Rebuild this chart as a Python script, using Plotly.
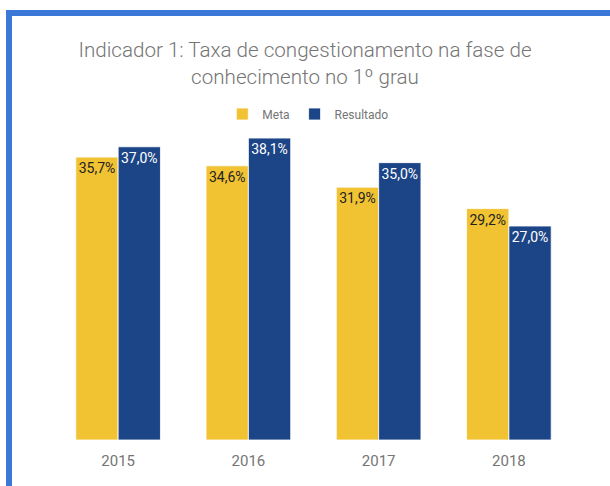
import plotly.graph_objects as go

years = ["2015", "2016", "2017", "2018"]
meta = [35.7, 34.6, 31.9, 29.2]
resultado = [37.0, 38.1, 35.0, 27.0]
meta_labels = ["35,7%", "34,6%", "31,9%", "29,2%"]
resultado_labels = ["37,0%", "38,1%", "35,0%", "27,0%"]

W, H = 610, 486
L, R, T, B = 53, 36, 123, 46
pw, ph = W - L - R, H - T - B

def px_x(x):
    return (x - L) / pw

def px_y(y):
    return (H - B - y) / ph

fig = go.Figure()
fig.add_trace(go.Bar(
    name="Meta", x=years, y=meta, text=meta_labels,
    marker=dict(color="#F1C232", line=dict(color="white", width=0.8)),
    textposition="inside", insidetextanchor="end", constraintext="none",
    textfont=dict(color="#222222", size=14, family="Roboto"),
    textangle=0,
))
fig.add_trace(go.Bar(
    name="Resultado", x=years, y=resultado, text=resultado_labels,
    marker=dict(color="#1C4587", line=dict(color="white", width=0.8)),
    textposition="inside", insidetextanchor="end", constraintext="none",
    textfont=dict(color="white", size=14, family="Roboto"),
    textangle=0,
))

fig.update_layout(
    width=W, height=H,
    margin=dict(l=L, r=R, t=T, b=B, autoexpand=False),
    paper_bgcolor="white", plot_bgcolor="white",
    barmode="group", bargap=0.35, bargroupgap=0,
    font=dict(family="Roboto", color="#757575"),
    title=dict(
        text="Indicador 1: Taxa de congestionamento na fase de<br>conhecimento no 1º grau",
        x=0.5, xanchor="center", y=1 - 57 / H, yanchor="middle",
        font=dict(size=20.6, color="#757575", family="Roboto", weight=300),
    ),
    legend=dict(
        orientation="h", x=0.49, xanchor="center", y=px_y(114), yanchor="middle",
        font=dict(size=12, color="#757575"), itemwidth=30, traceorder="normal",
    ),
    xaxis=dict(showgrid=False, zeroline=False, showline=False, ticks="",
               ticklabelstandoff=10,
               tickfont=dict(size=15, color="#757575")),
    yaxis=dict(range=[0, 40], visible=False, showgrid=False, zeroline=False),
    shapes=[
        dict(type="rect", xref="paper", yref="paper",
             x0=px_x(6), x1=px_x(W + 5), y0=px_y(16), y1=px_y(10),
             fillcolor="#3C78D8", line=dict(width=0), layer="above"),
        dict(type="rect", xref="paper", yref="paper",
             x0=px_x(6), x1=px_x(12), y0=px_y(H + 5), y1=px_y(10),
             fillcolor="#3C78D8", line=dict(width=0), layer="above"),
    ],
)

fig.write_html("out.html", config={"displayModeBar": False},
               post_script="document.body.style.margin='0px';document.body.style.overflow='hidden';")
